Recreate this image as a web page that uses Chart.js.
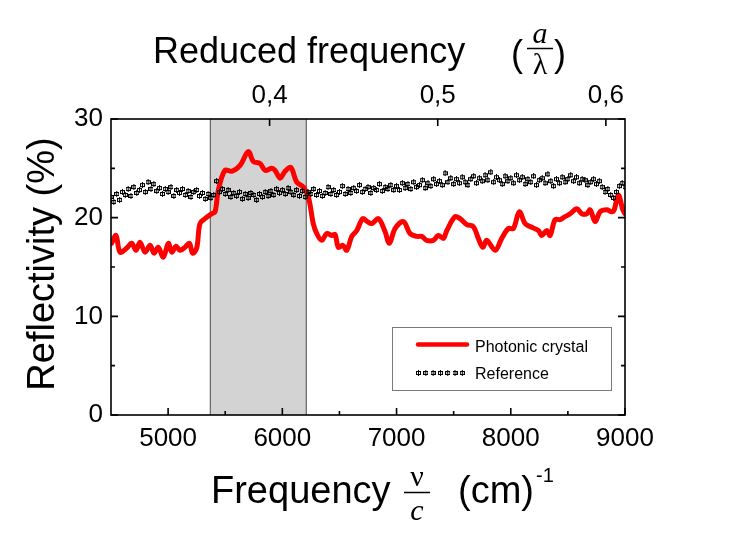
<!DOCTYPE html>
<html><head><meta charset="utf-8">
<script src="https://cdn.jsdelivr.net/npm/chart.js@4.4.0/dist/chart.umd.min.js"></script>
<style>html,body{margin:0;padding:0;background:#fff}#wrap{width:729px;height:545px}</style>
</head><body><div id="wrap"><canvas id="c" width="729" height="545"></canvas></div>
<script>
// ---------- data ----------
const photonicFreq = [4505,4544,4579,4637,4681,4719,4754,4798,4842,4877,
 4914,4958,5002,5032,5069,5104,5148,5186,5215,5250,
 5279,5323,5382,5411,5440,5498,5557,5630,5702,5746,
 5805,5849,5907,5936,5980,6024,6074,6126,6184,6228,
 6271,6301,6345,6389,6433,6462,6490,6529,6564,6608,
 6652,6704,6744,6783,6841,6899,6937,6987,7060,7118,
 7177,7221,7264,7322,7366,7410,7440,7512,7556,7615,
 7672,7716,7755,7790,7863,7921,7979,8023,8075,8125,
 8169,8242,8271,8315,8344,8388,8432,8475,8520,8578,
 8622,8666,8695,8739,8782,8841,8884,8905,8942,8981,9000];
const photonicRefl = [17.4,18.2,16.5,16.9,17.4,16.7,17.5,16.5,17.2,16.4,
 17.0,16.0,17.4,16.5,17.1,16.7,17.0,17.4,16.4,16.9,
 19.4,19.9,20.4,20.6,22.8,24.8,24.7,25.3,26.7,25.7,
 25.5,24.8,25.0,24.8,24.0,24.7,25.1,23.6,23.1,22.1,
 19.4,18.4,17.7,18.4,18.2,18.3,17.0,17.2,16.7,18.1,
 18.7,19.9,19.6,19.4,19.9,18.6,17.4,18.9,19.6,18.4,
 18.1,18.1,17.7,17.7,18.2,17.9,18.7,20.1,19.9,19.3,
 19.1,17.9,17.0,17.7,16.7,17.9,18.9,18.9,20.6,19.4,
 19.1,18.7,18.2,18.7,18.2,19.8,19.8,20.1,20.4,20.9,
 20.4,20.4,20.8,19.6,20.6,20.8,20.6,20.8,22.3,20.8,20.4];
const referenceStart = 4500, referenceStep = 25;
const referenceRefl = [
 22.1,21.6,22.4,21.8,22.6,22.3,22.9,22.2,23.1,22.5,22.8,23.3,22.6,23.6,22.9,23.4,22.7,23.0,22.4,22.9,
 22.6,23.1,22.2,22.8,22.5,22.9,22.3,22.7,22.1,22.6,22.8,22.2,22.5,21.9,22.4,22.0,22.3,23.7,22.6,22.9,
 22.4,22.8,22.1,22.5,22.2,22.6,21.9,22.4,22.0,22.5,22.3,21.8,22.4,22.1,22.6,22.2,22.7,22.3,22.9,22.5,
 22.8,22.4,23.0,22.6,22.3,22.8,22.2,22.7,22.1,22.6,22.4,22.9,22.3,22.7,22.2,22.5,23.1,22.4,22.8,22.3,
 22.6,23.2,22.4,22.9,22.5,23.0,22.7,23.3,22.6,22.9,23.1,22.5,23.0,22.8,23.4,22.7,23.1,22.9,23.3,22.8,
 23.2,22.8,23.5,23.0,23.4,22.9,23.6,23.1,23.3,23.8,23.0,23.5,23.2,23.9,23.4,23.7,23.3,24.5,23.6,24.0,
 23.4,23.9,23.5,24.1,23.6,23.3,23.9,24.2,23.5,24.0,23.7,24.3,23.8,24.6,23.6,24.1,23.8,23.4,24.2,23.7,
 24.0,23.5,24.3,23.8,24.1,23.4,23.9,23.6,24.2,23.3,23.8,24.0,23.5,24.4,23.7,23.2,23.9,23.5,24.1,23.6,
 23.9,24.3,23.7,24.1,23.5,23.9,23.8,23.3,23.6,23.9,23.4,23.7,23.1,22.6,22.9,22.3,22.0,22.6,23.2,23.5,
 23.1];
const xTicks = [5000,6000,7000,8000,9000];
const xMinorTicks = [5500,6500,7500,8500];
const yTicks = [0,10,20,30];
const yMinorTicks = [5,15,25];
const reducedTicks = [0.4,0.5,0.6];
const latticeConst = 6.793e-5; // cm, reduced frequency = a * wavenumber
const bandStart = 5370, bandEnd = 6210;
const seriesNames = ['Photonic crystal','Reference'];

// ---------- styling ----------
const FONT = "'Liberation Sans', Arial, Helvetica, sans-serif";
const SERIF = "'Liberation Serif', 'Times New Roman', serif";
const TICK_FONT = 26, TITLE_FONT = 38, TOP_TITLE_FONT = 36;

function makeMarker(){
  const c = document.createElement('canvas'); c.width = 5; c.height = 6;
  const g = c.getContext('2d');
  g.fillStyle = '#000';
  g.fillRect(0,1,5,1); g.fillRect(0,4,5,1); g.fillRect(0,1,1,4); g.fillRect(4,1,1,4);
  g.fillRect(2,0,1,6);
  return c;
}
const marker = makeMarker();

const referenceData = referenceRefl.map((v,i)=>({x: referenceStart + i*referenceStep, y: v}));
const photonicData = photonicFreq.map((f,i)=>({x: f, y: photonicRefl[i]}));

const bandPlugin = {
  id:'band',
  beforeDatasetsDraw(chart){
    const {ctx, chartArea:a, scales:{x}} = chart;
    const x0 = x.getPixelForValue(bandStart), x1 = x.getPixelForValue(bandEnd);
    ctx.save();
    ctx.fillStyle = '#d3d3d3';
    ctx.fillRect(x0, a.top, x1-x0, a.bottom-a.top);
    ctx.strokeStyle = '#6e6e6e'; ctx.lineWidth = 1.3;
    ctx.beginPath();
    ctx.moveTo(x0, a.top); ctx.lineTo(x0, a.bottom);
    ctx.moveTo(x1, a.top); ctx.lineTo(x1, a.bottom);
    ctx.stroke();
    ctx.restore();
  }
};

const framePlugin = {
  id:'frame',
  afterDatasetsDraw(chart){
    const {ctx, chartArea:a, scales} = chart;
    const x = scales.x, y = scales.y, x2 = scales.x2;
    ctx.save();
    ctx.strokeStyle = '#000'; ctx.lineWidth = 1.6;
    ctx.strokeRect(a.left, a.top, a.right-a.left, a.bottom-a.top);
    ctx.beginPath();
    const MAJ = 7, MIN = 4;
    xTicks.forEach(v=>{ const p = x.getPixelForValue(v); ctx.moveTo(p,a.bottom); ctx.lineTo(p,a.bottom-MAJ); });
    xMinorTicks.forEach(v=>{ const p = x.getPixelForValue(v); ctx.moveTo(p,a.bottom); ctx.lineTo(p,a.bottom-MIN); });
    yTicks.forEach(v=>{ const p = y.getPixelForValue(v);
      ctx.moveTo(a.left,p); ctx.lineTo(a.left+MAJ,p); ctx.moveTo(a.right,p); ctx.lineTo(a.right-MAJ,p); });
    yMinorTicks.forEach(v=>{ const p = y.getPixelForValue(v);
      ctx.moveTo(a.left,p); ctx.lineTo(a.left+MIN,p); ctx.moveTo(a.right,p); ctx.lineTo(a.right-MIN,p); });
    reducedTicks.forEach(v=>{ const p = x2.getPixelForValue(v); ctx.moveTo(p,a.top); ctx.lineTo(p,a.top+MAJ); });
    ctx.stroke();
    ctx.restore();
  }
};

const titlePlugin = {
  id:'titles',
  afterDraw(chart){
    const ctx = chart.ctx;
    ctx.save();
    ctx.fillStyle = '#000'; ctx.strokeStyle = '#000';
    ctx.textBaseline = 'alphabetic';
    // top title
    ctx.font = `${TOP_TITLE_FONT}px ${FONT}`;
    ctx.textAlign = 'left';
    ctx.fillText('Reduced frequency', 153, 63);
    ctx.fillText('(', 511, 66);
    ctx.fillText(')', 554, 66);
    ctx.textAlign = 'center';
    ctx.font = `italic 30px ${SERIF}`;
    ctx.fillText('a', 540, 43);
    ctx.font = `30px ${SERIF}`;
    ctx.fillText('λ', 540, 74);
    ctx.lineWidth = 1.5;
    ctx.beginPath(); ctx.moveTo(527, 48.5); ctx.lineTo(553, 48.5); ctx.stroke();
    // bottom title
    ctx.font = `${TITLE_FONT}px ${FONT}`;
    ctx.textAlign = 'left';
    ctx.fillText('Frequency', 211, 503);
    ctx.fillText('(cm)', 458, 503);
    ctx.font = `20px ${FONT}`;
    ctx.fillText('-1', 536, 482);
    ctx.textAlign = 'center';
    ctx.font = `30px ${SERIF}`;
    ctx.fillText('ν', 417, 486);
    ctx.font = `italic 30px ${SERIF}`;
    ctx.fillText('c', 417, 520);
    ctx.beginPath(); ctx.moveTo(404, 492.5); ctx.lineTo(430, 492.5); ctx.stroke();
    // y title
    ctx.translate(54, 264);
    ctx.rotate(-Math.PI/2);
    ctx.font = `${TITLE_FONT}px ${FONT}`;
    ctx.textAlign = 'center';
    ctx.fillText('Reflectivity (%)', 0, 0);
    ctx.restore();

    // legend
    ctx.save();
    ctx.strokeStyle = '#7a7a7a'; ctx.lineWidth = 1;
    ctx.strokeRect(392.5, 327.5, 219, 63);
    ctx.strokeStyle = '#ff0000'; ctx.lineWidth = 4.5; ctx.lineCap = 'round';
    ctx.beginPath(); ctx.moveTo(418, 344.5); ctx.lineTo(467, 344.5); ctx.stroke();
    for (let i=0;i<7;i++){ ctx.drawImage(marker, 416 + i*7.3, 370); }
    ctx.fillStyle = '#000';
    ctx.font = `16px ${FONT}`;
    ctx.textAlign = 'left'; ctx.textBaseline = 'middle';
    ctx.fillText(seriesNames[0], 475, 348);
    ctx.fillText(seriesNames[1], 475, 375);
    ctx.restore();
  }
};

new Chart(document.getElementById('c'), {
  type: 'line',
  data: { datasets: [
    { label: seriesNames[1], data: referenceData, showLine: false,
      pointStyle: marker, pointRadius: 3, pointHoverRadius: 3,
      borderColor: '#000', backgroundColor: '#000', xAxisID:'x', yAxisID:'y' },
    { label: seriesNames[0], data: photonicData, borderColor: '#ff0000', backgroundColor:'#ff0000',
      borderWidth: 5, pointRadius: 0, tension: 0.35, borderJoinStyle:'round', borderCapStyle:'round',
      xAxisID:'x', yAxisID:'y' }
  ]},
  options: {
    responsive: false, animation: false, devicePixelRatio: 1,
    layout: { padding: { left: 0, right: 104, top: 0, bottom: 0 } },
    plugins: { legend: { display: false }, tooltip: { enabled: false } },
    scales: {
      x: { type:'linear', position:'bottom', min: 4500, max: 9000,
        afterBuildTicks: s => { s.ticks = xTicks.map(v=>({value:v})); },
        afterFit: s => { s.height = 130; },
        grid: { display:false, drawTicks:false }, border: { display:false },
        ticks: { font: { size: TICK_FONT, family: FONT }, color:'#000', padding: 8, maxRotation:0, autoSkip:false,
          callback: v => String(v) }
      },
      x2: { type:'linear', position:'top', min: 4500*latticeConst, max: 9000*latticeConst,
        afterBuildTicks: s => { s.ticks = reducedTicks.map(v=>({value:v})); },
        afterFit: s => { s.height = 119; },
        grid: { display:false, drawTicks:false }, border: { display:false },
        ticks: { font: { size: TICK_FONT, family: FONT }, color:'#000', padding: 8, maxRotation:0, autoSkip:false,
          callback: v => v.toFixed(1).replace('.', ',') }
      },
      y: { type:'linear', position:'left', min: 0, max: 30,
        afterBuildTicks: s => { s.ticks = yTicks.map(v=>({value:v})); },
        afterFit: s => { s.width = 111; },
        grid: { display:false, drawTicks:false }, border: { display:false },
        ticks: { font: { size: TICK_FONT, family: FONT }, color:'#000', padding: 8 }
      }
    }
  },
  plugins: [bandPlugin, framePlugin, titlePlugin]
});
</script>
</body></html>
